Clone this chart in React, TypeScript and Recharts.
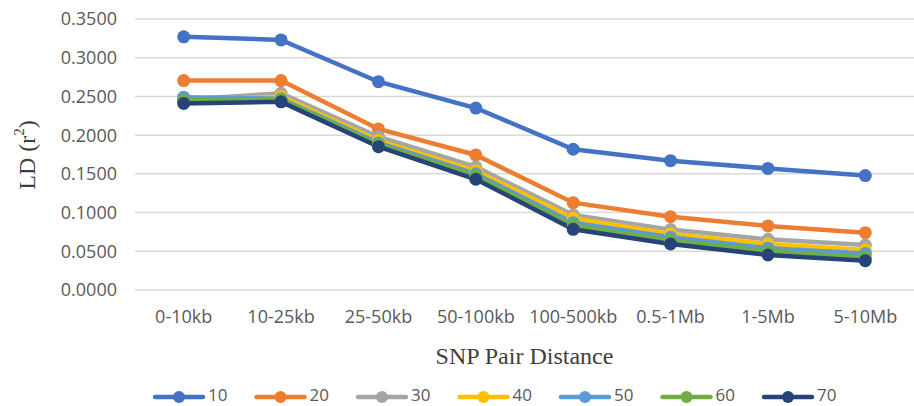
import React from 'react';
import { LineChart, Line, XAxis, YAxis, CartesianGrid, Legend, Label } from 'recharts';

const categories = ['0-10kb', '10-25kb', '25-50kb', '50-100kb', '100-500kb', '0.5-1Mb', '1-5Mb', '5-10Mb'];
const s10 = [0.327, 0.323, 0.269, 0.235, 0.1818, 0.167, 0.157, 0.1478];
const s20 = [0.2705, 0.2705, 0.208, 0.1744, 0.1128, 0.0947, 0.0827, 0.074];
const s30 = [0.246, 0.254, 0.198, 0.159, 0.097, 0.078, 0.0655, 0.058];
const s40 = [0.244, 0.25, 0.193, 0.154, 0.0926, 0.0724, 0.0594, 0.0517];
const s50 = [0.249, 0.247, 0.19, 0.15, 0.087, 0.068, 0.054, 0.047];
const s60 = [0.245, 0.246, 0.188, 0.147, 0.083, 0.064, 0.05, 0.042];
const s70 = [0.241, 0.243, 0.185, 0.143, 0.0784, 0.0594, 0.0452, 0.0379];
const seriesNames = ['10', '20', '30', '40', '50', '60', '70'];
const seriesValues = [s10, s20, s30, s40, s50, s60, s70];
const seriesColors = ['#4472C4', '#ED7D31', '#A5A5A5', '#FFC000', '#5B9BD5', '#70AD47', '#264478'];
const yTicks = [0, 0.05, 0.1, 0.15, 0.2, 0.25, 0.3, 0.35];

const data = categories.map((c, i) => {
  const row: Record<string, string | number> = { cat: c };
  seriesNames.forEach((n, k) => {
    row['s' + n] = seriesValues[k][i];
  });
  return row;
});

const FONT = '"Open Sans", sans-serif';
const SERIF = '"Liberation Serif", "Times New Roman", serif';

const renderLegend = () => (
  <svg width={914} height={20} style={{ display: 'block', overflow: 'visible' }}>
    {seriesNames.map((n, k) => {
      const x0 = 155 + k * 101.5;
      return (
        <g key={n}>
          <line x1={x0} y1={11} x2={x0 + 48} y2={11} stroke={seriesColors[k]} strokeWidth={4.5} strokeLinecap="round" />
          <circle cx={x0 + 24} cy={11} r={6} fill={seriesColors[k]} />
          <text x={x0 + 53} y={15} fontFamily={FONT} fontSize={17} fill="#595959">{n}</text>
        </g>
      );
    })}
  </svg>
);

const YLabel = () => {
  const x = 27;
  const y = 155;
  return (
    <text x={x} y={y} transform={`rotate(-90 ${x} ${y})`} textAnchor="middle" dominantBaseline="central"
      fontFamily={SERIF} fontSize={24} fill="#404040">
      LD (r<tspan baselineShift="super" fontSize={15}>2</tspan>)
    </text>
  );
};

export default function App() {
  return (
    <div style={{ position: 'absolute', left: 0, top: 0, width: 914, height: 406, background: '#fff' }}>
      <LineChart width={914} height={406} data={data} margin={{ top: 19, right: 0, bottom: 0, left: 0 }}>
        <CartesianGrid vertical={false} stroke="#D9D9D9" strokeWidth={1.5} />
        <XAxis dataKey="cat" scale="band" axisLine={false} tickLine={false} tickSize={0} tickMargin={20}
          height={96} interval={0}
          tick={{ fontFamily: FONT, fontSize: 18, fill: '#595959' }}>
          <Label value="SNP Pair Distance" position="insideTop" offset={57}
            style={{ fontFamily: SERIF, fontSize: 24, fill: '#404040' }} />
        </XAxis>
        <YAxis domain={[0, 0.35]} ticks={yTicks} width={135} axisLine={false} tickLine={false}
          tickSize={0} tickMargin={18} tickFormatter={(v: number) => v.toFixed(4)}
          tick={{ fontFamily: FONT, fontSize: 18, fill: '#595959' }}
          label={<YLabel />} />
        <Legend verticalAlign="bottom" content={renderLegend}
          wrapperStyle={{ left: 0, top: 386, width: 914, height: 20, bottom: 'auto' }} />
        {seriesNames.map((n, k) => (
          <Line key={n} dataKey={'s' + n} name={n} stroke={seriesColors[k]} strokeWidth={4.5}
            dot={{ r: 6.5, fill: seriesColors[k], stroke: seriesColors[k], strokeWidth: 0 }}
            activeDot={false} isAnimationActive={false} />
        ))}
      </LineChart>
    </div>
  );
}
